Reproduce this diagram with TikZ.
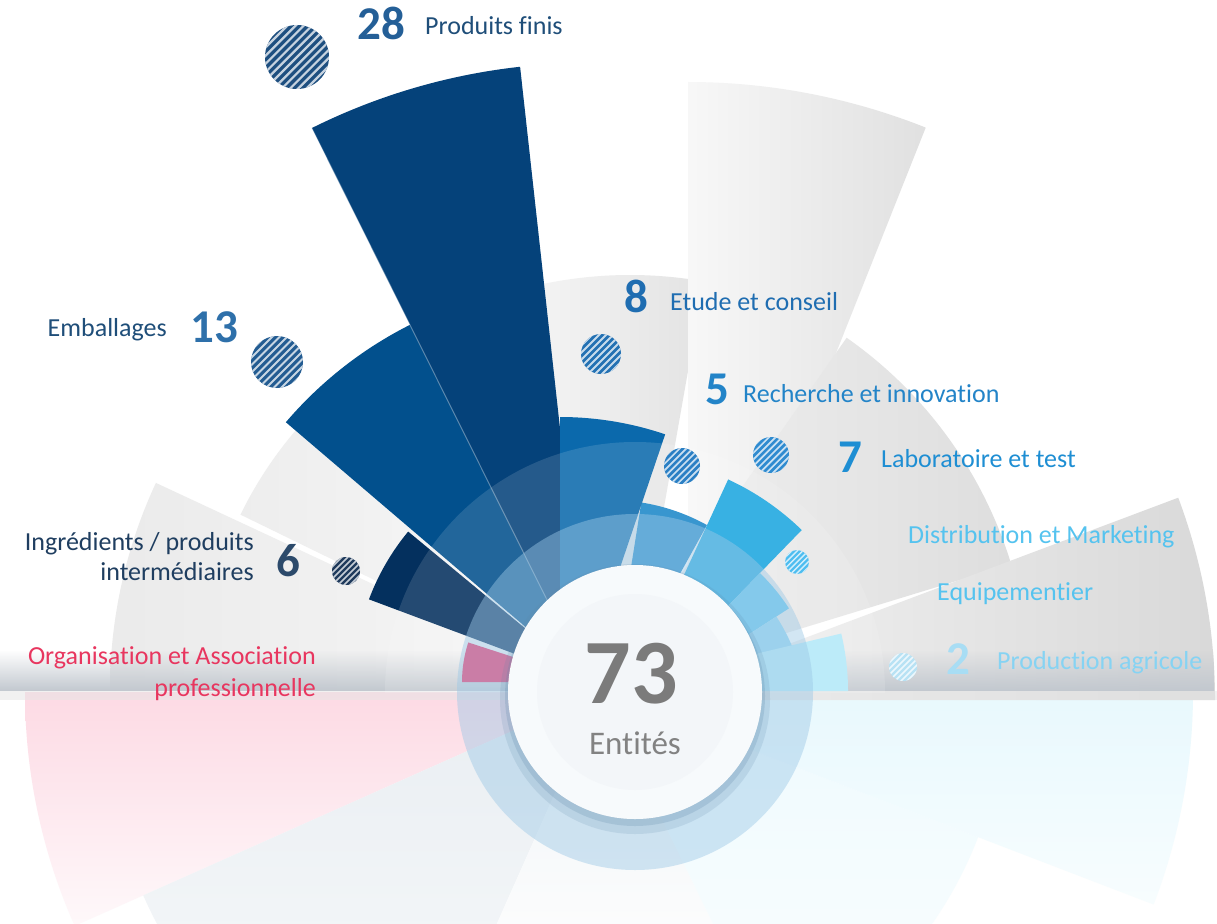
\documentclass[tikz,border=0pt]{standalone}
\usepackage{fontspec}
\setmainfont{Carlito}[Ligatures={NoCommon,NoContextual}]
\usetikzlibrary{fadings}
% text colours
\definecolor{c28}{HTML}{245F97}
\definecolor{cpf}{HTML}{1F4E79}
\definecolor{c13}{HTML}{2E70AA}
\definecolor{c6}{HTML}{2C4A6B}
\definecolor{cing}{HTML}{1F3E60}
\definecolor{corg}{HTML}{E8365F}
\definecolor{c8}{HTML}{1F6DB1}
\definecolor{c5}{HTML}{2384C8}
\definecolor{c7}{HTML}{1E8ED3}
\definecolor{cdist}{HTML}{55C3EF}
\definecolor{c2}{HTML}{A8DDF4}
\definecolor{cprod}{HTML}{86D3F3}
\definecolor{c73}{HTML}{7B7B7B}
\definecolor{c73b}{HTML}{828282}
% wedge colours
\definecolor{wpf}{HTML}{05427A}
\definecolor{wemb}{HTML}{02508D}
\definecolor{wing}{HTML}{04305E}
\definecolor{worg}{HTML}{F0245F}
\definecolor{w8}{HTML}{0B69AC}
\definecolor{w5}{HTML}{1B87C9}
\definecolor{w7}{HTML}{1BA6DF}
\definecolor{wdist}{HTML}{5CC4EE}
\definecolor{wequ}{HTML}{8FD5F2}
\definecolor{wprod}{HTML}{B3E9F9}
% dots
\definecolor{dpf}{HTML}{1E4F80}
\definecolor{demb}{HTML}{235C92}
\definecolor{ding}{HTML}{1F3A5C}
\definecolor{d8}{HTML}{2371B3}
\definecolor{d5}{HTML}{2A7FC4}
\definecolor{d7}{HTML}{2F8BD0}
\definecolor{ddist}{HTML}{4DBDF0}
\definecolor{dprod}{HTML}{B8E2F4}
% misc
\definecolor{ringc}{HTML}{9CC8E6}
\definecolor{shadowc}{HTML}{5D86A8}
\definecolor{circA}{HTML}{F7FAFC}
\definecolor{circB}{HTML}{F3F6F9}
\definecolor{bandc}{HTML}{C2C8CF}
\definecolor{refgA}{HTML}{E9EEF2}
\definecolor{refgB}{HTML}{FAFBFC}

\newcommand\mysector[6]{\path[#6] (#1,#2) -- ++(-#3:#5) arc[start angle=-#3, end angle=-#4, radius=#5] -- cycle;}
\newcommand\hatchdot[6]{%
  \fill[#4] (#1,#2) circle[radius=#3];
  \begin{scope}
    \clip (#1,#2) circle[radius=#3];
    \foreach \k in {-9,...,9}
      \draw[white, opacity=0.75, line width=#6] ({#1+\k*#5-#3-3},{#2+#3+3}) -- ++({2*#3+6},{-2*#3-6});
  \end{scope}}

\begin{document}
\begin{tikzpicture}[x=1pt,y=-1pt,
  lbl/.style={inner sep=0pt, font=\fontsize{26}{30}\selectfont},
  num/.style={inner sep=0pt, font=\fontsize{47}{50}\selectfont\bfseries}]
\useasboundingbox (0,0) rectangle (1217,923);
\fill[white] (0,0) rectangle (1217,923);

% ---- reflections below the horizon
\mysector{600}{692}{180}{204}{575}{top color=worg!17!white, bottom color=worg!3!white}
\mysector{600}{692}{204}{246}{500}{top color=refgA, bottom color=refgB}
\mysector{600}{692}{246}{296}{300}{top color=refgA!70!white, bottom color=white}
\mysector{600}{692}{296}{339}{405}{top color=wprod!22!white, bottom color=wprod!6!white}
\mysector{600}{692}{339}{360}{593}{top color=wprod!30!white, bottom color=wprod!10!white}

% ---- grey background wedges
\mysector{600}{690}{155}{180}{490}{left color=black!8, right color=black!3}
\mysector{600}{690}{137}{154}{400}{left color=black!7, right color=black!2}
\mysector{630}{700}{80}{104}{425}{left color=black!4, right color=black!11}
\mysector{688}{725}{68.3}{90}{643}{left color=black!3, right color=black!12}
\mysector{600}{690}{17}{55}{430}{left color=black!5, right color=black!13}
\mysector{640}{700}{0}{20.6}{575}{left color=black!4, right color=black!15}

% ---- horizon band
\path[fill=bandc, path fading=north] (0,650) rectangle (1217,691);
\fill[black!10, opacity=0.5] (0,691) rectangle (1217,700);

% ---- coloured wedges
\mysector{590}{682}{116.5}{139.5}{400}{fill=wemb}
\mysector{590}{682}{140.4}{159.5}{236}{fill=wing}
\mysector{588}{682}{96.3}{116.5}{619}{fill=wpf}
\draw[white, opacity=0.35, line width=1pt] (588,682) -- ++(-116.5:619);
\mysector{610}{700}{61}{81}{200}{fill=w5}
\mysector{560}{745}{71.3}{90}{328}{fill=w8}
\mysector{617}{720}{45.8}{65.2}{265}{fill=w7}
\mysector{617}{720}{33}{45.8}{205}{fill=wdist}
\mysector{617}{720}{20}{33}{190}{fill=wequ}
\mysector{600}{691}{0}{13.4}{248}{fill=wprod}
\mysector{590}{682}{162}{180}{128}{fill=worg}

% ---- light overlay disc
\begin{scope}
  \clip (0,0) rectangle (1217,692);
  \fill[white, opacity=0.13] (635,692) circle[radius=250];
\end{scope}

% ---- translucent ring
\path[fill=ringc, fill opacity=0.45, even odd rule] (635,692) circle[radius=178] (635,692) circle[radius=127];

% ---- centre disc
\fill[shadowc, opacity=0.16] (635,699) circle[radius=135];
\fill[shadowc, opacity=0.22] (635,696) circle[radius=130];
\fill[circA] (635,692) circle[radius=127];
\fill[circB] (635,692) circle[radius=98];

% ---- hatched dots
\hatchdot{297}{57}{32}{dpf}{8.2}{2.2pt}
\hatchdot{277}{362}{26}{demb}{7.5}{2pt}
\hatchdot{346}{571}{14}{ding}{6}{1.5pt}
\hatchdot{601}{354}{20}{d8}{7}{1.8pt}
\hatchdot{682}{466}{18}{d5}{6.6}{1.7pt}
\hatchdot{771}{455}{18}{d7}{6.6}{1.7pt}
\hatchdot{797}{562}{12}{ddist}{5.5}{1.4pt}
\hatchdot{903}{667}{14}{dprod}{6}{1.5pt}

% ---- texts
\node[num, text=c28, anchor=base west] (n28) at (357,40) {28};
\node[lbl, text=cpf, anchor=base west] (tpf) at (425,35) {Produits finis};
\node[lbl, text=cpf, anchor=base east] (temb) at (167,336) {Emballages};
\node[num, text=c13, anchor=base west] (n13) at (190,342) {13};
\node[lbl, text=cing, anchor=base east] (ting1) at (254,550) {Ingrédients / produits};
\node[lbl, text=cing, anchor=base east] (ting2) at (254,580) {intermédiaires};
\node[num, text=c6, anchor=base west] (n6) at (276,576) {6};
\node[lbl, text=corg, anchor=base east] (torg1) at (316,664) {Organisation et Association};
\node[lbl, text=corg, anchor=base east] (torg2) at (316,696) {professionnelle};
\node[num, text=c8, anchor=base west] (n8) at (624,312) {8};
\node[lbl, text=c8, anchor=base west] (t8) at (670,310) {Etude et conseil};
\node[num, text=c5, anchor=base west] (n5) at (705,404) {5};
\node[lbl, text=c5, anchor=base west] (t5) at (743,402) {Recherche et innovation};
\node[num, text=c7, anchor=base west] (n7) at (838,472) {7};
\node[lbl, text=c7, anchor=base west] (t7) at (881,467) {Laboratoire et test};
\node[lbl, text=cdist, anchor=base west] (tdist) at (908,543) {Distribution et Marketing};
\node[lbl, text=cdist, anchor=base west] (tequ) at (937,600) {Equipementier};
\node[num, text=c2, anchor=base west] (n2) at (946,674) {2};
\node[lbl, text=cprod, anchor=base west] (tprod) at (997,669) {Production agricole};
\node[inner sep=0pt, font=\fontsize{92}{96}\selectfont\bfseries, text=c73, anchor=base] (n73) at (631,703) {73};
\node[inner sep=0pt, font=\fontsize{33}{36}\selectfont, text=c73b, anchor=base] (tent) at (635,754) {Entités};
\end{tikzpicture}
\end{document}
